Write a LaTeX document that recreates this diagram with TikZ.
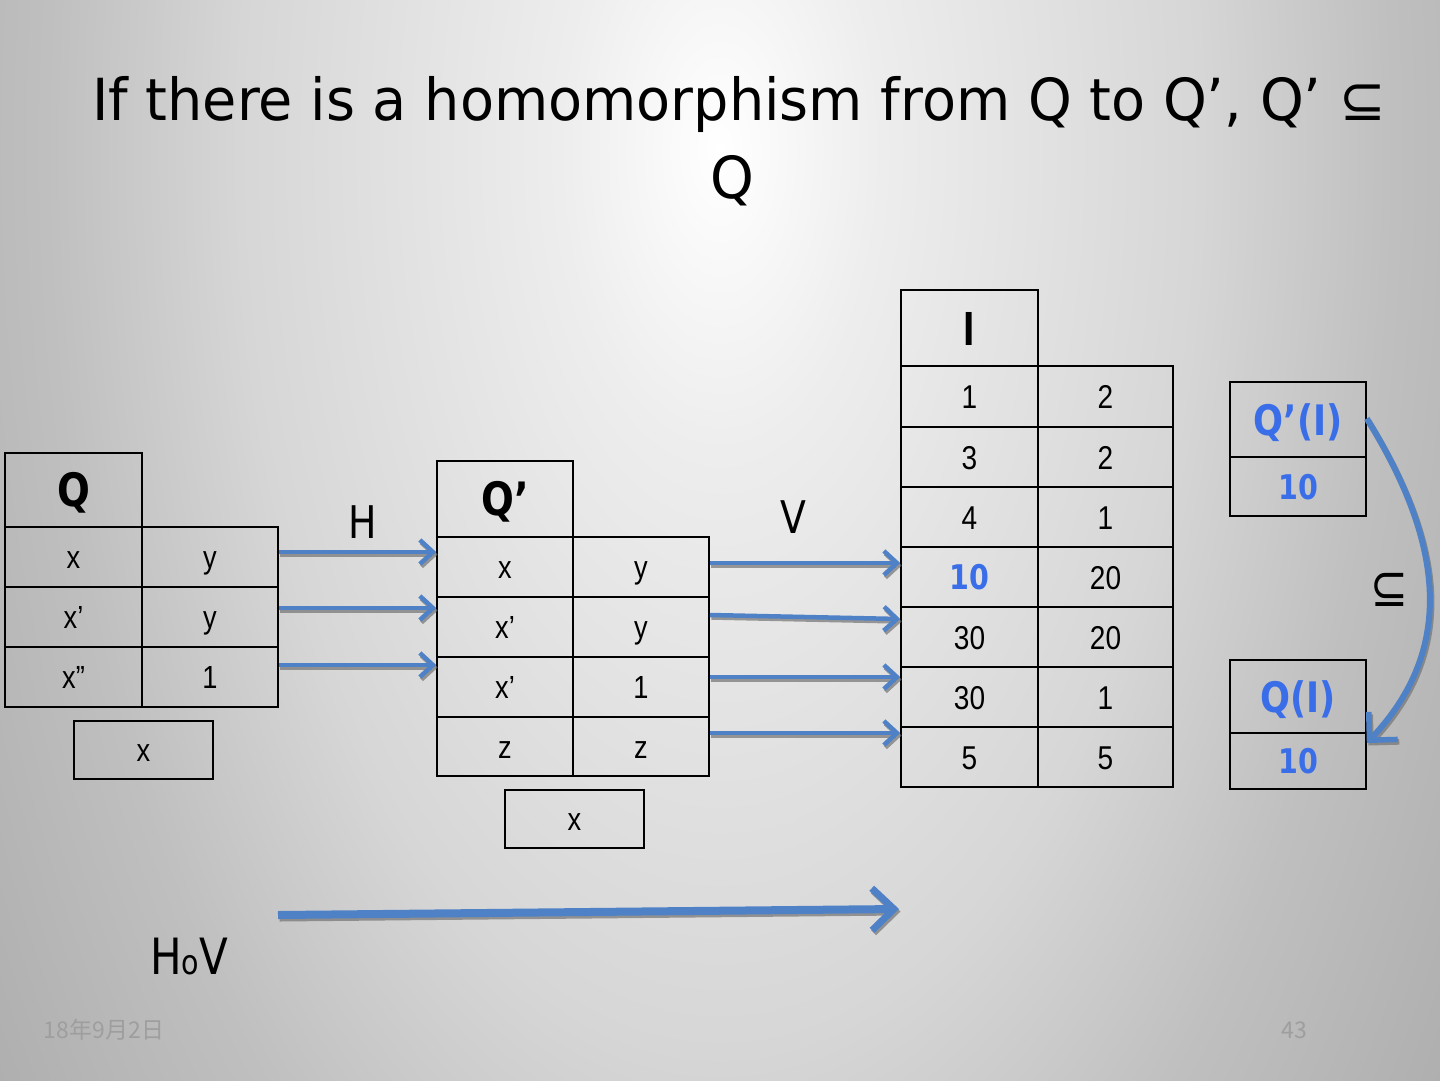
\documentclass[tikz,border=0pt]{standalone}
\usepackage{fontspec}
\setmainfont{Liberation Sans}[FakeStretch=0.85]
\newfontfamily\vfont{DejaVu Sans}[FakeStretch=0.84]
\newfontfamily\tfont{DejaVu Sans}[FakeStretch=0.96]
\newfontfamily\cjk{Noto Sans CJK SC}
\usetikzlibrary{arrows.meta,calc}
\definecolor{qblue}{RGB}{58,110,232}
\definecolor{arrblue}{RGB}{79,129,199}
\definecolor{bg1}{gray}{0.93}
\definecolor{bg2}{gray}{0.84}
\definecolor{bg3}{gray}{0.75}
\definecolor{bg4}{gray}{0.68}
\definecolor{bg5}{gray}{0.60}
\definecolor{bg6}{gray}{0.52}
\definecolor{footc}{gray}{0.62}
\pgfdeclareradialshading{bgshade}{\pgfpoint{0bp}{0bp}}{color(0bp)=(white); color(5bp)=(bg1); color(15bp)=(bg2); color(21bp)=(bg3); color(28bp)=(bg4); color(38bp)=(bg5); color(50bp)=(bg6)}
\tikzset{
  cell/.style={draw=black, line width=1.6pt, inner sep=0pt},
  tq/.style={cell, font=\fontsize{32}{32}\selectfont, text height=23pt, text depth=0pt},
  ti/.style={cell, font=\fontsize{33}{33}\selectfont, text height=24pt, text depth=0pt},
  hq/.style={cell, font=\vfont\bfseries\fontsize{46}{46}\selectfont, text height=33pt, text depth=0pt},
  hi/.style={cell, font=\bfseries\fontsize{48}{48}\selectfont, text height=34pt, text depth=0pt},
  hb/.style={cell, text=qblue, font=\vfont\bfseries\fontsize{42}{42}\selectfont, text height=31pt, text depth=0pt},
  rb/.style={cell, text=qblue, font=\vfont\bfseries\fontsize{34}{34}\selectfont, text height=25pt, text depth=0pt},
  lbl/.style={font=\vfont\fontsize{45}{45}\selectfont, anchor=base, inner sep=0pt},
  arr/.style={draw=arrblue, line width=4.5pt, -{Straight Barb[length=13pt,width=24pt,line width=4.5pt]}},
  arrsh/.style={arr, draw=black!55, opacity=0.7, transform canvas={shift={(1.5pt,-2.5pt)}}},
  foot/.style={font=\cjk\fontsize{23}{23}\selectfont, text=footc, anchor=base, inner sep=0pt},
}
\newcommand{\sharrow}[2][]{\draw[arrsh,#1] #2; \draw[arr,#1] #2;}
\begin{document}
\begin{tikzpicture}[x=1pt,y=-1pt]
\useasboundingbox (0,0) rectangle (1440,1080);
\begin{scope}
\clip (0,0) rectangle (1440,1080);
\shade[shading=bgshade] (-80,-1350) rectangle (1520,1650);
\end{scope}

% title
\node[font=\tfont\fontsize{58}{58}\selectfont, anchor=base, inner sep=0pt] (t1) at (739,120) {If there is a homomorphism from Q to Q’, Q’ ⊆};
\node[font=\tfont\fontsize{58}{58}\selectfont, anchor=base, inner sep=0pt] (t2) at (732,198) {Q};

% Q table
\node[hq, minimum width=137pt, minimum height=74pt] (qh) at (73.5,490) {Q};
\node[tq, minimum width=137pt, minimum height=60pt] (q1l) at (73.5,557) {x};
\node[tq, minimum width=136pt, minimum height=60pt] (q1r) at (210,557) {y};
\node[tq, minimum width=137pt, minimum height=60pt] (q2l) at (73.5,617) {x’};
\node[tq, minimum width=136pt, minimum height=60pt] (q2r) at (210,617) {y};
\node[tq, minimum width=137pt, minimum height=60pt] (q3l) at (73.5,677) {x”};
\node[tq, minimum width=136pt, minimum height=60pt] (q3r) at (210,677) {1};
\node[tq, minimum width=139pt, minimum height=58pt] (qx) at (143.5,750) {x};

% Q' table
\node[hq, minimum width=136pt, minimum height=76pt] (qph) at (505,499) {Q’};
\node[tq, minimum width=136pt, minimum height=60pt] (qp1l) at (505,567) {x};
\node[tq, minimum width=136pt, minimum height=60pt] (qp1r) at (641,567) {y};
\node[tq, minimum width=136pt, minimum height=60pt] (qp2l) at (505,627) {x’};
\node[tq, minimum width=136pt, minimum height=60pt] (qp2r) at (641,627) {y};
\node[tq, minimum width=136pt, minimum height=60pt] (qp3l) at (505,687) {x’};
\node[tq, minimum width=136pt, minimum height=60pt] (qp3r) at (641,687) {1};
\node[tq, minimum width=136pt, minimum height=59pt] (qp4l) at (505,746.5) {z};
\node[tq, minimum width=136pt, minimum height=59pt] (qp4r) at (641,746.5) {z};
\node[tq, minimum width=139pt, minimum height=58pt] (qpx) at (574.5,819) {x};

% I table
\node[hi, minimum width=137pt, minimum height=76pt] (ih) at (969.5,328) {I};
\node[ti, minimum width=137pt, minimum height=61pt] (i1l) at (969.5,396.5) {1};
\node[ti, minimum width=135pt, minimum height=61pt] (i1r) at (1105.5,396.5) {2};
\node[ti, minimum width=137pt, minimum height=60pt] (i2l) at (969.5,457) {3};
\node[ti, minimum width=135pt, minimum height=60pt] (i2r) at (1105.5,457) {2};
\node[ti, minimum width=137pt, minimum height=60pt] (i3l) at (969.5,517) {4};
\node[ti, minimum width=135pt, minimum height=60pt] (i3r) at (1105.5,517) {1};
\node[rb, minimum width=137pt, minimum height=60pt] (i4l) at (969.5,577) {10};
\node[ti, minimum width=135pt, minimum height=60pt] (i4r) at (1105.5,577) {20};
\node[ti, minimum width=137pt, minimum height=60pt] (i5l) at (969.5,637) {30};
\node[ti, minimum width=135pt, minimum height=60pt] (i5r) at (1105.5,637) {20};
\node[ti, minimum width=137pt, minimum height=60pt] (i6l) at (969.5,697) {30};
\node[ti, minimum width=135pt, minimum height=60pt] (i6r) at (1105.5,697) {1};
\node[ti, minimum width=137pt, minimum height=60pt] (i7l) at (969.5,757) {5};
\node[ti, minimum width=135pt, minimum height=60pt] (i7r) at (1105.5,757) {5};

% result tables
\node[hb, minimum width=136pt, minimum height=75pt] (qpih) at (1298,419.5) {Q’(I)};
\node[rb, minimum width=136pt, minimum height=59pt] (qpi1) at (1298,486.5) {10};
\node[hb, minimum width=136pt, minimum height=73pt] (qih) at (1298,696.5) {Q(I)};
\node[rb, minimum width=136pt, minimum height=56pt] (qi1) at (1298,761) {10};

% labels
\node[lbl] (lh) at (363,538) {H};
\node[lbl] (lv) at (793,533) {V};
\node[lbl, font=\vfont\fontsize{50}{50}\selectfont] (lhv) at (189,974) {H{\fontsize{34}{34}\selectfont o}V};
\node[font=\vfont\fontsize{54}{54}\selectfont, inner sep=0pt] (sub) at (1389,590) {⊆};

% H arrows
\sharrow{([yshift=5pt]q1r.east) -- ([yshift=5pt]q1r.east -| qp1l.west)}
\sharrow{([yshift=9pt]q2r.east) -- ([yshift=9pt]q2r.east -| qp2l.west)}
\sharrow{([yshift=12pt]q3r.east) -- ([yshift=12pt]q3r.east -| qp3l.west)}

% V arrows
\sharrow{([yshift=4pt]qp1r.east) -- ([yshift=4pt]qp1r.east -| i4l.west)}
\sharrow{([yshift=12pt]qp2r.east) -- ([yshift=18pt]i5l.west)}
\sharrow{([yshift=10pt]qp3r.east) -- ([yshift=10pt]qp3r.east -| i6l.west)}
\sharrow{([yshift=13.5pt]qp4r.east) -- ([yshift=13.5pt]qp4r.east -| i7l.west)}

% HoV arrow
\coordinate (hvs) at (278,915);
\coordinate (hve) at (899,909);
\sharrow[line width=8pt, -{Straight Barb[length=22pt,width=42pt,line width=7pt]}]{(hvs) -- (hve)}

% subset arrow
\sharrow[line width=6pt, -{Straight Barb[length=20pt,width=40pt,line width=5.5pt]}]{([yshift=1pt]qpih.east) .. controls (1445,545) and (1455,650) .. ([yshift=18pt]qi1.east)}

% footer
\node[foot] (date) at (104,1038) {18年9月2日};
\node[foot] (page) at (1294,1038) {43};
\end{tikzpicture}
\end{document}
